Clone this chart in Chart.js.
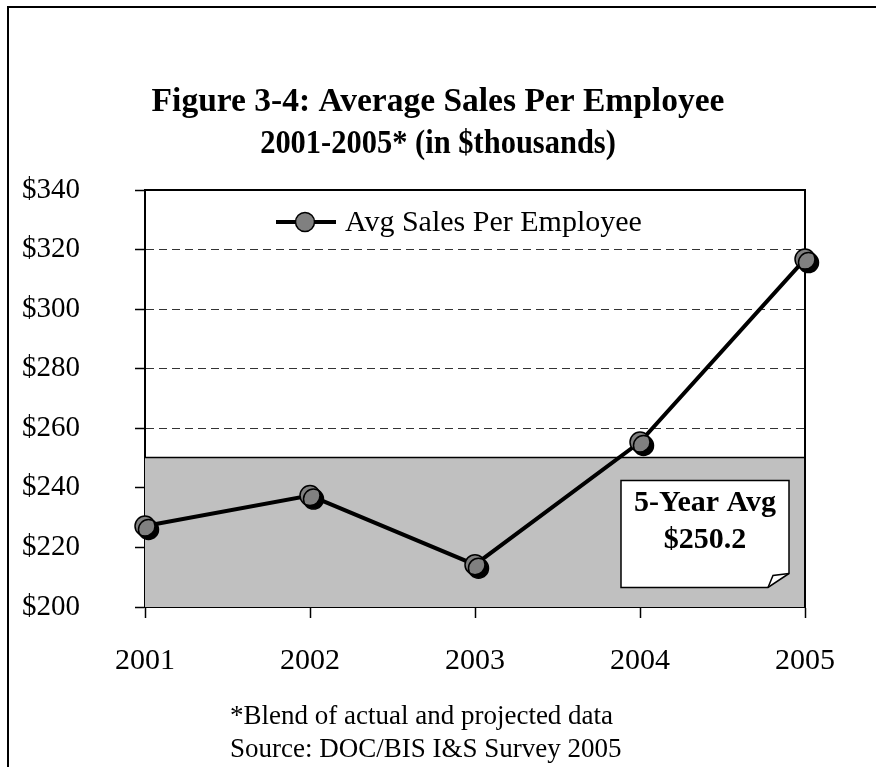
<!DOCTYPE html>
<html>
<head>
<meta charset="utf-8">
<script src="https://cdn.jsdelivr.net/npm/chart.js@4.4.1/dist/chart.umd.min.js"></script>
<style>
  html, body { margin: 0; padding: 0; background: #fff; }
  #wrap { position: relative; width: 876px; height: 767px; }
  canvas { display: block; }
</style>
</head>
<body>
<div id="wrap"><canvas id="c" width="876" height="767"></canvas></div>
<script>
// ---- data ----
const years = ['2001', '2002', '2003', '2004', '2005'];
const salesPerEmployee = [227.2, 237.4, 214.2, 255.4, 316.8];
const fiveYearAvg = 250.2;
const yTicks = [200, 220, 240, 260, 280, 300, 320, 340];
const titleLines = ['Figure 3-4: Average Sales Per Employee', '2001-2005* (in $thousands)'];
const seriesLabel = 'Avg Sales Per Employee';
const avgBoxLines = ['5-Year Avg', '$250.2'];
const footnoteLines = ['*Blend of actual and projected data', 'Source: DOC/BIS I&S Survey 2005'];

const SERIF = '"Liberation Serif", "Times New Roman", serif';

const framePlugin = {
  id: 'frame',
  beforeDraw(chart) {
    const ctx = chart.ctx;
    ctx.save();
    ctx.strokeStyle = '#000';
    ctx.lineWidth = 2;
    ctx.beginPath();
    ctx.moveTo(8, chart.height + 2);
    ctx.lineTo(8, 7);
    ctx.lineTo(chart.width + 2, 7);
    ctx.stroke();
    // title
    ctx.fillStyle = '#000';
    ctx.font = 'bold 33.5px ' + SERIF;
    ctx.textAlign = 'center';
    ctx.textBaseline = 'middle';
    ctx.fillText(titleLines[0], 438, 102);
    ctx.translate(438, 144);
    ctx.scale(0.91, 1);
    ctx.fillText(titleLines[1], 0, 0);
    ctx.restore();
  },
  beforeDatasetsDraw(chart) {
    const { ctx, chartArea: a, scales } = chart;
    const yTop = scales.y.getPixelForValue(fiveYearAvg);
    ctx.save();
    ctx.fillStyle = '#C0C0C0';
    ctx.fillRect(a.left, yTop, a.right - a.left, a.bottom - yTop);
    ctx.strokeStyle = '#000';
    ctx.lineWidth = 1.5;
    ctx.beginPath();
    ctx.moveTo(a.left, yTop);
    ctx.lineTo(a.right, yTop);
    ctx.stroke();
    // top and right borders of plot area
    ctx.lineWidth = 2;
    ctx.beginPath();
    ctx.moveTo(a.left, a.top);
    ctx.lineTo(a.right, a.top);
    ctx.lineTo(a.right, a.bottom);
    ctx.stroke();
    // 5-year average note box
    const bx = a.right - 184, by = yTop + 23, bw = 168, bh = 107, cut = 21, cutH = 14;
    ctx.fillStyle = '#fff';
    ctx.strokeStyle = '#000';
    ctx.lineWidth = 1.5;
    ctx.beginPath();
    ctx.moveTo(bx, by);
    ctx.lineTo(bx + bw, by);
    ctx.lineTo(bx + bw, by + bh - cutH);
    ctx.lineTo(bx + bw - cut, by + bh);
    ctx.lineTo(bx, by + bh);
    ctx.closePath();
    ctx.fill();
    ctx.stroke();
    ctx.beginPath();
    ctx.moveTo(bx + bw - cut, by + bh);
    ctx.lineTo(bx + bw - cut + 5, by + bh - 12);
    ctx.lineTo(bx + bw, by + bh - cutH);
    ctx.stroke();
    ctx.fillStyle = '#000';
    ctx.font = 'bold 30px ' + SERIF;
    ctx.textAlign = 'center';
    ctx.textBaseline = 'middle';
    ctx.fillText(avgBoxLines[0], bx + bw / 2, by + 23);
    ctx.fillText(avgBoxLines[1], bx + bw / 2, by + 60);
    ctx.restore();
  },
  afterDraw(chart) {
    const { ctx, chartArea: a } = chart;
    ctx.save();
    // legend
    const ly = a.top + 32, lx = a.left + 131;
    ctx.strokeStyle = '#000';
    ctx.lineWidth = 4;
    ctx.beginPath();
    ctx.moveTo(lx, ly);
    ctx.lineTo(lx + 60, ly);
    ctx.stroke();
    ctx.beginPath();
    ctx.arc(lx + 29, ly, 9.5, 0, Math.PI * 2);
    ctx.fillStyle = '#808080';
    ctx.fill();
    ctx.lineWidth = 1.5;
    ctx.stroke();
    ctx.fillStyle = '#000';
    ctx.font = '30px ' + SERIF;
    ctx.textAlign = 'left';
    ctx.textBaseline = 'middle';
    ctx.fillText(seriesLabel, lx + 69, ly + 1);
    // footnote
    ctx.font = '27px ' + SERIF;
    ctx.textAlign = 'left';
    ctx.fillText(footnoteLines[0], 230, 717);
    ctx.fillText(footnoteLines[1], 230, 750);
    ctx.restore();
  }
};

const shadowPlugin = {
  id: 'pointShadow',
  beforeDatasetDraw(chart, args) {
    if (args.meta._dataset && args.meta._dataset.id === 'pts') {
      const ctx = chart.ctx;
      ctx.save();
      ctx.shadowColor = '#000';
      ctx.shadowOffsetX = 3.5;
      ctx.shadowOffsetY = 3.5;
      ctx.shadowBlur = 0;
    }
  },
  afterDatasetDraw(chart, args) {
    if (args.meta._dataset && args.meta._dataset.id === 'pts') {
      chart.ctx.restore();
    }
  }
};

new Chart(document.getElementById('c'), {
  type: 'line',
  data: {
    labels: years,
    datasets: [
      {
        id: 'pts',
        label: seriesLabel,
        data: salesPerEmployee,
        showLine: false,
        pointRadius: 10,
        pointBackgroundColor: '#808080',
        pointBorderColor: '#000',
        pointBorderWidth: 1.5,
        clip: false,
        order: 0
      },
      {
        label: seriesLabel,
        data: salesPerEmployee,
        borderColor: '#000',
        borderWidth: 4,
        pointRadius: 0,
        tension: 0,
        clip: false,
        order: 1
      }
    ]
  },
  options: {
    responsive: false,
    animation: false,
    devicePixelRatio: 1,
    layout: { padding: { top: 190, right: 71, bottom: 0, left: 0 } },
    plugins: {
      legend: { display: false },
      tooltip: { enabled: false },
      title: { display: false }
    },
    scales: {
      x: {
        type: 'category',
        offset: false,
        afterFit(scale) { scale.height = 160; },
        grid: { drawOnChartArea: false, drawTicks: true, tickLength: 11, tickColor: '#000', tickWidth: 1.5 },
        border: { display: true, color: '#000', width: 2 },
        ticks: { color: '#000', font: { family: SERIF, size: 30 }, padding: 25, maxRotation: 0, autoSkip: false }
      },
      y: {
        type: 'linear',
        min: 200,
        max: 340,
        afterFit(scale) { scale.width = 145; },
        afterBuildTicks(scale) { scale.ticks = yTicks.map(v => ({ value: v })); },
        grid: {
          color: (c) => (c.tick && c.tick.value > fiveYearAvg && c.tick.value < 340) ? '#333' : 'rgba(0,0,0,0)',
          lineWidth: 1,
          drawTicks: true,
          tickLength: 10,
          tickColor: '#000',
          tickWidth: 1.5
        },
        border: { display: true, color: '#000', width: 2, dash: [8, 5] },
        ticks: {
          color: '#000',
          font: { family: SERIF, size: 29 },
          padding: 55,
          callback: (v) => '$' + v
        }
      }
    }
  },
  plugins: [framePlugin, shadowPlugin]
});
</script>
</body>
</html>
